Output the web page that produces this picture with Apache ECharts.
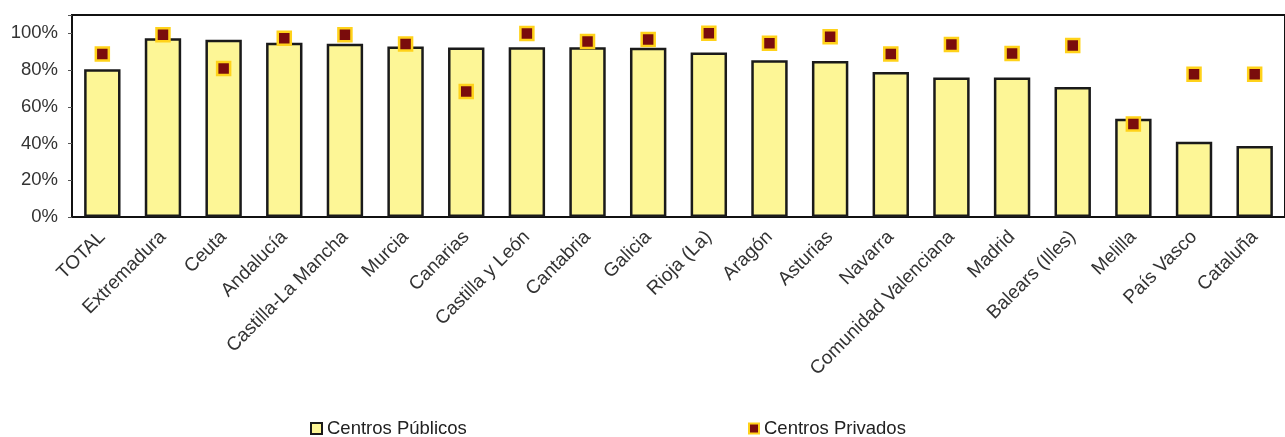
<!DOCTYPE html>
<html>
<head>
<meta charset="utf-8">
<script src="https://cdn.jsdelivr.net/npm/echarts@6/dist/echarts.min.js"></script>
<style>
html,body{margin:0;padding:0;background:#fff;}
#chart{width:1285px;height:437px;}
</style>
</head>
<body>
<div id="chart"></div>
<script>
const categories = ['TOTAL','Extremadura','Ceuta','Andalucía','Castilla-La Mancha','Murcia','Canarias','Castilla y León','Cantabria','Galicia','Rioja (La)','Aragón','Asturias','Navarra','Comunidad Valenciana','Madrid','Balears (Illes)','Melilla','País Vasco','Cataluña'];
const centrosPublicos = [80.5, 97.3, 96.5, 94.9, 94.3, 92.8, 92.3, 92.4, 92.5, 92.1, 89.6, 85.4, 85.0, 79.0, 76.0, 76.0, 70.8, 53.5, 41.0, 38.6];
const centrosPrivados = [88.7, 99.3, 80.9, 97.3, 99.3, 94.2, 68.3, 99.9, 95.6, 96.6, 100, 94.6, 98.2, 88.8, 93.9, 89.0, 93.4, 50.6, 77.7, 77.7];
const yTicks = [0, 20, 40, 60, 80, 100];

const chart = echarts.init(document.getElementById('chart'), null, {renderer:'canvas'});
const font = 'Liberation Sans, Arial, sans-serif';
chart.setOption({
  animation: false,
  backgroundColor: '#ffffff',
  grid: {
    left: 72, top: 15, width: 1224, height: 202,
    show: true, borderColor: '#111', borderWidth: 2, backgroundColor: 'transparent',
    containLabel: false
  },
  legend: [
    {data: ['Centros Públicos'], left: 305, top: 414, itemWidth: 11, itemHeight: 11, itemGap: 3,
     textStyle: {fontFamily: font, fontSize: 18.5, color: '#222'}, icon: 'rect'},
    {data: ['Centros Privados'], left: 743, top: 414, itemWidth: 10, itemHeight: 10, itemGap: 3,
     textStyle: {fontFamily: font, fontSize: 18.5, color: '#222'}, icon: 'rect'}
  ],
  xAxis: {
    type: 'category',
    data: categories,
    axisLine: {show: true, lineStyle: {color: '#111', width: 2}},
    axisTick: {show: false},
    axisLabel: {rotate: 45, interval: 0, margin: 17, fontFamily: font, fontSize: 19, color: '#333'}
  },
  yAxis: {
    type: 'value',
    min: 0, max: 110, interval: 20,
    splitLine: {show: false},
    axisLine: {show: true, lineStyle: {color: '#111', width: 2}},
    axisTick: {show: true, length: 4, lineStyle: {color: '#555'}},
    axisLabel: {
      margin: 14, fontFamily: font, fontSize: 18.5, color: '#333',
      formatter: function (v) { return yTicks.indexOf(v) >= 0 ? v + '%' : ''; }
    }
  },
  series: [
    {
      name: 'Centros Públicos', type: 'bar', data: centrosPublicos,
      barWidth: '60%',
      itemStyle: {color: '#fdf696', borderColor: '#1a1a1a', borderWidth: 2.5},
      z: 2
    },
    {
      name: 'Centros Privados', type: 'scatter', data: centrosPrivados,
      symbol: 'rect', symbolSize: 13,
      itemStyle: {color: '#7a0c0c', borderColor: '#ffd21a', borderWidth: 2.5, opacity: 1},
      z: 5
    }
  ]
});
</script>
</body>
</html>
